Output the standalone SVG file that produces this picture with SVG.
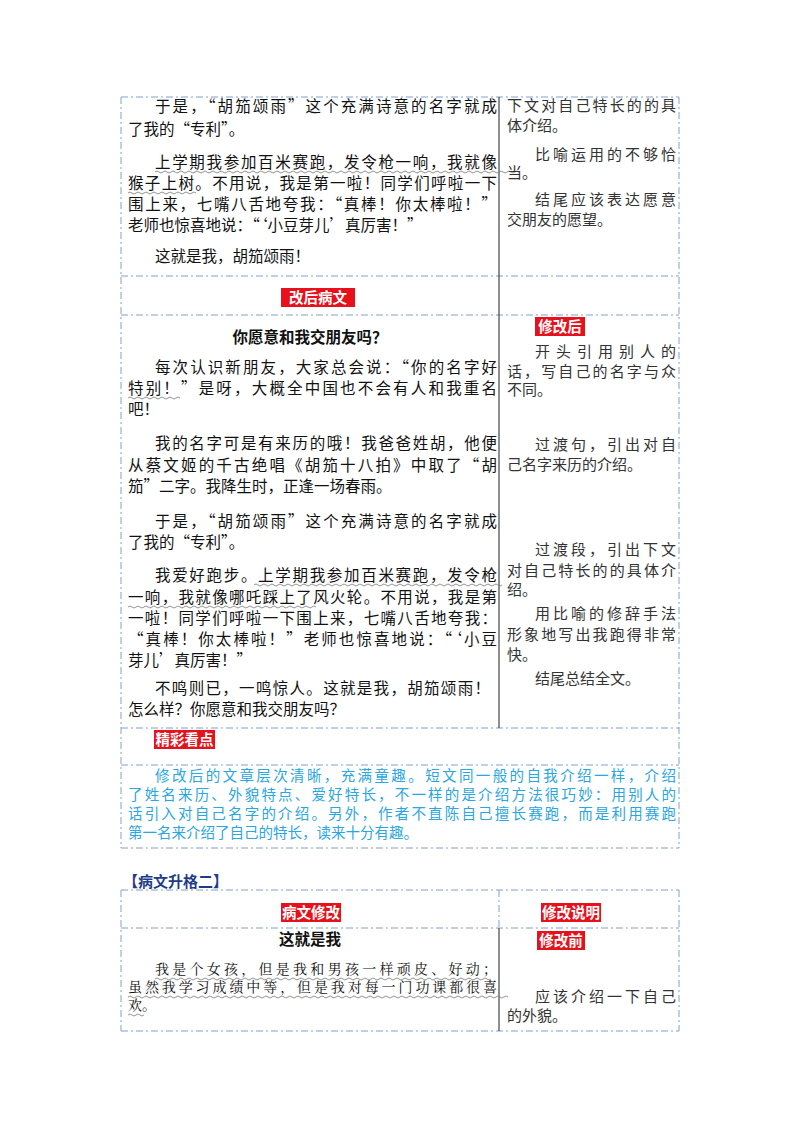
<svg xmlns="http://www.w3.org/2000/svg" width="800" height="1132" viewBox="0 0 800 1132">
<style>
text{font-family:"Noto Sans CJK SC","Noto Sans",sans-serif;font-size:15.5px;fill:#111}
.r{fill:#333;font-size:15px}
.b{font-weight:bold}
.c{text-anchor:middle}
.bl{fill:#2aa6e0;font-size:14.5px}
.w{fill:#fff;font-weight:bold;font-size:14.5px}
.d{stroke:#7fa0d0;stroke-width:1;stroke-dasharray:7 3 2 3;fill:none}
.s{stroke:#444;stroke-width:1.2}
.tag{fill:#e8101a}
.wv{fill:none;stroke:#777;stroke-width:0.8}
.k{font-family:"Noto Serif CJK SC","Liberation Serif",serif;font-size:14px}
</style>
<rect width="800" height="1132" fill="#fff"/>
<g id="frame1">
<line class="d" x1="121" y1="97" x2="679" y2="97"/>
<line class="d" x1="121" y1="276" x2="679" y2="276"/>
<line class="d" x1="121" y1="315" x2="679" y2="315"/>
<line class="d" x1="121" y1="728" x2="679" y2="728"/>
<line class="d" x1="121" y1="765" x2="679" y2="765"/>
<line class="d" x1="121" y1="848" x2="679" y2="848"/>
<line class="d" x1="121" y1="97" x2="121" y2="848"/>
<line class="d" x1="679" y1="97" x2="679" y2="848"/>
<line class="s" x1="499" y1="97" x2="499" y2="728"/>
</g>
<g id="part1">
<text x="155" y="112" textLength="342" lengthAdjust="spacing">于是，“胡笳颂雨”这个充满诗意的名字就成</text>
<text x="128" y="135">了我的“专利”。</text>
<text x="155" y="168" textLength="342" lengthAdjust="spacing">上学期我参加百米赛跑，发令枪一响，我就像</text>
<text x="128" y="189" textLength="369" lengthAdjust="spacing">猴子上树。不用说，我是第一啦！同学们呼啦一下</text>
<text x="128" y="210" textLength="369" lengthAdjust="spacing">围上来，七嘴八舌地夸我：“真棒！你太棒啦！”</text>
<text x="128" y="231">老师也惊喜地说：“‘小豆芽儿’真厉害！”</text>
<text x="155" y="262">这就是我，胡笳颂雨！</text>
<path class="wv" d="M155 172 q2 -2 4 0 t4 0 t4 0 t4 0 t4 0 t4 0 t4 0 t4 0 t4 0 t4 0 t4 0 t4 0 t4 0 t4 0 t4 0 t4 0 t4 0 t4 0 t4 0 t4 0 t4 0 t4 0 t4 0 t4 0 t4 0 t4 0 t4 0 t4 0 t4 0 t4 0 t4 0 t4 0 t4 0 t4 0 t4 0 t4 0 t4 0 t4 0 t4 0 t4 0 t4 0 t4 0 t4 0 t4 0 t4 0 t4 0 t4 0 t4 0 t4 0 t4 0 t4 0 t4 0 t4 0 t4 0 t4 0 t4 0 t4 0 t4 0 t4 0 t4 0 t4 0 t4 0 t4 0 t4 0 t4 0 t4 0 t4 0 t4 0 t4 0 t4 0 t4 0 t4 0 t4 0 t4 0 t4 0 t4 0 t4 0 t4 0 t4 0 t4 0 t4 0 t4 0 t4 0 t4 0 t4 0 t4 0 t4 0 t4 0 t4 0 t4 0 t4 0"/>
<path class="wv" d="M128 193 q2 -2 4 0 t4 0 t4 0 t4 0 t4 0 t4 0 t4 0 t4 0 t4 0 t4 0 t4 0 t4 0 t4 0 t4 0 t4 0 t4 0 t4 0"/>
<text class="r" x="507" y="111" textLength="169" lengthAdjust="spacing">下文对自己特长的的具</text>
<text class="r" x="507" y="131">体介绍。</text>
<text class="r" x="535" y="160" textLength="141" lengthAdjust="spacing">比喻运用的不够恰</text>
<text class="r" x="507" y="178">当。</text>
<text class="r" x="535" y="205" textLength="141" lengthAdjust="spacing">结尾应该表达愿意</text>
<text class="r" x="507" y="225">交朋友的愿望。</text>
</g>
<g id="tag-gaihou">
<rect class="tag" x="281" y="288" width="74" height="19"/>
<text class="w c" x="318" y="303">改后病文</text>
</g>
<g id="part2">
<text class="b c" x="310" y="343">你愿意和我交朋友吗？</text>
<text x="155" y="373" textLength="342" lengthAdjust="spacing">每次认识新朋友，大家总会说：“你的名字好</text>
<text x="128" y="394" textLength="369" lengthAdjust="spacing">特别！”是呀，大概全中国也不会有人和我重名</text>
<text x="128" y="415">吧！</text>
<path class="wv" d="M128 398 q2 -2 4 0 t4 0 t4 0 t4 0 t4 0 t4 0 t4 0 t4 0 t4 0 t4 0 t4 0 t4 0 t4 0"/>
<text x="155" y="449" textLength="342" lengthAdjust="spacing">我的名字可是有来历的哦！我爸爸姓胡，他便</text>
<text x="128" y="471" textLength="369" lengthAdjust="spacing">从蔡文姬的千古绝唱《胡笳十八拍》中取了“胡</text>
<text x="128" y="492">笳”二字。我降生时，正逢一场春雨。</text>
<text x="155" y="527" textLength="342" lengthAdjust="spacing">于是，“胡笳颂雨”这个充满诗意的名字就成</text>
<text x="128" y="548">了我的“专利”。</text>
<text x="155" y="581" textLength="342" lengthAdjust="spacing">我爱好跑步。上学期我参加百米赛跑，发令枪</text>
<text x="128" y="603" textLength="369" lengthAdjust="spacing">一响，我就像哪吒踩上了风火轮。不用说，我是第</text>
<text x="128" y="624" textLength="369" lengthAdjust="spacing">一啦！同学们呼啦一下围上来，七嘴八舌地夸我：</text>
<text x="128" y="645" textLength="369" lengthAdjust="spacing">“真棒！你太棒啦！”老师也惊喜地说：“‘小豆</text>
<text x="128" y="666">芽儿’真厉害！”</text>
<path class="wv" d="M254 585 q2 -2 4 0 t4 0 t4 0 t4 0 t4 0 t4 0 t4 0 t4 0 t4 0 t4 0 t4 0 t4 0 t4 0 t4 0 t4 0 t4 0 t4 0 t4 0 t4 0 t4 0 t4 0 t4 0 t4 0 t4 0 t4 0 t4 0 t4 0 t4 0 t4 0 t4 0 t4 0 t4 0 t4 0 t4 0 t4 0 t4 0 t4 0 t4 0 t4 0 t4 0 t4 0 t4 0 t4 0 t4 0 t4 0 t4 0 t4 0 t4 0 t4 0 t4 0 t4 0 t4 0 t4 0 t4 0 t4 0 t4 0 t4 0 t4 0 t4 0 t4 0 t4 0 t4 0"/>
<path class="wv" d="M128 607 q2 -2 4 0 t4 0 t4 0 t4 0 t4 0 t4 0 t4 0 t4 0 t4 0 t4 0 t4 0 t4 0 t4 0 t4 0 t4 0 t4 0 t4 0 t4 0 t4 0 t4 0 t4 0 t4 0 t4 0 t4 0 t4 0 t4 0 t4 0 t4 0 t4 0 t4 0 t4 0 t4 0 t4 0 t4 0 t4 0 t4 0 t4 0 t4 0 t4 0 t4 0 t4 0 t4 0 t4 0 t4 0 t4 0 t4 0 t4 0"/>
<text x="155" y="694" textLength="335" lengthAdjust="spacing">不鸣则已，一鸣惊人。这就是我，胡笳颂雨！</text>
<text x="128" y="715">怎么样？你愿意和我交朋友吗？</text>
</g>
<g id="tag-xiugaihou">
<rect class="tag" x="535" y="317" width="50" height="19"/>
<text class="w c" x="560" y="332">修改后</text>
</g>
<g id="notes2">
<text class="r" x="535" y="357" textLength="141" lengthAdjust="spacing">开头引用别人的</text>
<text class="r" x="507" y="377" textLength="169" lengthAdjust="spacing">话，写自己的名字与众</text>
<text class="r" x="507" y="395">不同。</text>
<text class="r" x="535" y="450" textLength="141" lengthAdjust="spacing">过渡句，引出对自</text>
<text class="r" x="507" y="470">己名字来历的介绍。</text>
<text class="r" x="535" y="555" textLength="141" lengthAdjust="spacing">过渡段，引出下文</text>
<text class="r" x="507" y="576" textLength="169" lengthAdjust="spacing">对自己特长的的具体介</text>
<text class="r" x="507" y="595">绍。</text>
<text class="r" x="535" y="619" textLength="141" lengthAdjust="spacing">用比喻的修辞手法</text>
<text class="r" x="507" y="640" textLength="169" lengthAdjust="spacing">形象地写出我跑得非常</text>
<text class="r" x="507" y="660">快。</text>
<text class="r" x="535" y="684">结尾总结全文。</text>
</g>
<g id="tag-jingcai">
<rect class="tag" x="154" y="730" width="61" height="19"/>
<text class="w c" x="184.5" y="745">精彩看点</text>
</g>
<g id="highlight">
<text class="bl" x="155" y="781" textLength="521" lengthAdjust="spacing">修改后的文章层次清晰，充满童趣。短文同一般的自我介绍一样，介绍</text>
<text class="bl" x="128" y="800" textLength="548" lengthAdjust="spacing">了姓名来历、外貌特点、爱好特长，不一样的是介绍方法很巧妙：用别人的</text>
<text class="bl" x="128" y="819" textLength="548" lengthAdjust="spacing">话引入对自己名字的介绍。另外，作者不直陈自己擅长赛跑，而是利用赛跑</text>
<text class="bl" x="128" y="838">第一名来介绍了自己的特长，读来十分有趣。</text>
</g>
<g id="heading2">
<text x="123" y="887" class="b" style="fill:#1f3c88;font-size:15px">【病文升格二】</text>
</g>
<g id="frame2">
<line class="d" x1="121" y1="890" x2="679" y2="890"/>
<line class="d" x1="121" y1="928" x2="679" y2="928"/>
<line class="d" x1="121" y1="1031" x2="679" y2="1031"/>
<line class="d" x1="121" y1="890" x2="121" y2="1031"/>
<line class="d" x1="679" y1="890" x2="679" y2="1031"/>
<line class="d" x1="499" y1="890" x2="499" y2="928"/>
<line class="s" x1="499" y1="928" x2="499" y2="1031"/>
</g>
<g id="tag-bingwen">
<rect class="tag" x="281" y="903" width="60" height="19"/>
<text class="w c" x="311" y="918">病文修改</text>
</g>
<g id="tag-shuoming">
<rect class="tag" x="541" y="903" width="60" height="19"/>
<text class="w c" x="571" y="918">修改说明</text>
</g>
<g id="part3">
<text class="b c" x="310" y="945">这就是我</text>
<text class="k" x="155" y="974" textLength="342" lengthAdjust="spacing">我是个女孩，但是我和男孩一样顽皮、好动；</text>
<text class="k" x="128" y="992" textLength="369" lengthAdjust="spacing">虽然我学习成绩中等，但是我对每一门功课都很喜</text>
<text class="k" x="128" y="1010">欢。</text>
<path class="wv" d="M155 979 q2 -2 4 0 t4 0 t4 0 t4 0 t4 0 t4 0 t4 0 t4 0 t4 0 t4 0 t4 0 t4 0 t4 0 t4 0 t4 0 t4 0 t4 0 t4 0 t4 0 t4 0 t4 0 t4 0 t4 0 t4 0 t4 0 t4 0 t4 0 t4 0 t4 0 t4 0 t4 0 t4 0 t4 0 t4 0 t4 0 t4 0 t4 0 t4 0 t4 0 t4 0 t4 0 t4 0 t4 0 t4 0 t4 0 t4 0 t4 0 t4 0 t4 0 t4 0 t4 0 t4 0 t4 0 t4 0 t4 0 t4 0 t4 0 t4 0 t4 0 t4 0 t4 0 t4 0 t4 0 t4 0 t4 0 t4 0 t4 0 t4 0 t4 0 t4 0 t4 0 t4 0 t4 0 t4 0 t4 0 t4 0 t4 0 t4 0 t4 0 t4 0 t4 0 t4 0 t4 0 t4 0"/>
<path class="wv" d="M128 997 q2 -2 4 0 t4 0 t4 0 t4 0 t4 0 t4 0 t4 0 t4 0 t4 0 t4 0 t4 0 t4 0 t4 0 t4 0 t4 0 t4 0 t4 0 t4 0 t4 0 t4 0 t4 0 t4 0 t4 0 t4 0 t4 0 t4 0 t4 0 t4 0 t4 0 t4 0 t4 0 t4 0 t4 0 t4 0 t4 0 t4 0 t4 0 t4 0 t4 0 t4 0 t4 0 t4 0 t4 0 t4 0 t4 0 t4 0 t4 0 t4 0 t4 0 t4 0 t4 0 t4 0 t4 0 t4 0 t4 0 t4 0 t4 0 t4 0 t4 0 t4 0 t4 0 t4 0 t4 0 t4 0 t4 0 t4 0 t4 0 t4 0 t4 0 t4 0 t4 0 t4 0 t4 0 t4 0 t4 0 t4 0 t4 0 t4 0 t4 0 t4 0 t4 0 t4 0 t4 0 t4 0 t4 0 t4 0 t4 0 t4 0 t4 0 t4 0 t4 0 t4 0 t4 0 t4 0 t4 0"/>
<path class="wv" d="M128 1015 q2 -2 4 0 t4 0 t4 0 t4 0"/>
</g>
<g id="tag-xiugaiqian">
<rect class="tag" x="537" y="931" width="48" height="19"/>
<text class="w c" x="561" y="946">修改前</text>
</g>
<g id="notes3">
<text class="r" x="535" y="1002" textLength="141" lengthAdjust="spacing">应该介绍一下自己</text>
<text class="r" x="507" y="1021">的外貌。</text>
</g>
</svg>
